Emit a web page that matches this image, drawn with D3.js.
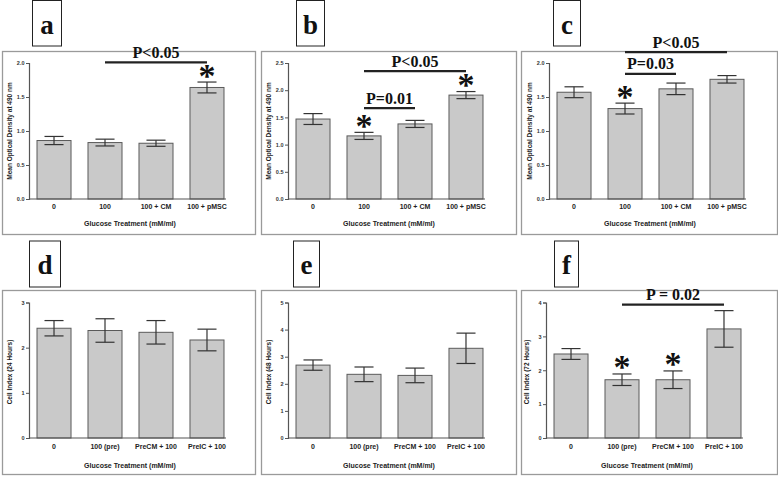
<!DOCTYPE html>
<html><head><meta charset="utf-8">
<script src="https://cdn.jsdelivr.net/npm/d3@7/dist/d3.min.js"></script>
<style>body{margin:0;background:#fff}svg{display:block}</style>
</head><body>
<svg id="chart" width="778" height="477"></svg>
<script>
// ---------- DATA ----------
const catsTop    = ["0", "100", "100 + CM", "100 + pMSC"];
const catsBottom = ["0", "100 (pre)", "PreCM + 100", "PreIC + 100"];

const aMeans = [0.86, 0.83, 0.82, 1.64];
const aErr   = [0.06, 0.05, 0.045, 0.08];
const bMeans = [1.47, 1.16, 1.38, 1.91];
const bErr   = [0.10, 0.065, 0.065, 0.065];
const cMeans = [1.57, 1.33, 1.62, 1.76];
const cErr   = [0.08, 0.08, 0.085, 0.055];
const dMeans = [2.43, 2.38, 2.34, 2.17];
const dErr   = [0.17, 0.26, 0.26, 0.24];
const eMeans = [2.69, 2.35, 2.31, 3.31];
const eErr   = [0.19, 0.27, 0.27, 0.56];
const fMeans = [2.48, 1.72, 1.72, 3.22];
const fErr   = [0.16, 0.17, 0.26, 0.54];

const ticksOD25 = [0, 0.5, 1.0, 1.5, 2.0, 2.5];
const ticksOD20 = [0, 0.5, 1.0, 1.5, 2.0];
const ticksCI3  = [0, 1, 2, 3];
const ticksCI4  = [0, 1, 2, 3, 4];
const ticksCI5  = [0, 1, 2, 3, 4, 5];

const yTitleOD = "Mean Optical Density at 490 nm";
const yTitleD  = "Cell Index (24 Hours)";
const yTitleE  = "Cell Index (48 Hours)";
const yTitleF  = "Cell Index (72 Hours)";
const xTitle   = "Glucose Treatment (mM/ml)";

const sigA = [{from: 1, to: 3, level: 2.01, label: "P<0.05"}];
const sigB = [{from: 1, to: 3, level: 2.35, label: "P<0.05"},
              {from: 1, to: 2, level: 1.67, label: "P=0.01"}];
const sigC = [{from: 1, to: 3, level: 2.16, label: "P<0.05"},
              {from: 1, to: 2, level: 1.84, label: "P=0.03"}];
const sigF = [{from: 1, to: 3, level: 3.94, label: "P = 0.02"}];

const starsA = [3], starsB = [1, 3], starsC = [1], starsD = [], starsE = [], starsF = [1, 2];

// ---------- LAYOUT ----------
const rowTop = {yTop: 63, yBot: 199, tickY: 208.5, xTitleY: 225.5, yTitleCY: 131, frameY: [51, 234], boxY: [0.5, 46], letterY: 34};
const rowBot = {yTop: 302.5, yBot: 438, tickY: 448.5, xTitleY: 467.5, yTitleCY: 372, frameY: [290, 474], boxY: [241, 287], letterY: 274};

const panels = [
  {letter: "a", cats: catsTop, means: aMeans, errs: aErr, ticks: ticksOD20, fmt: ".1f", yTitle: yTitleOD, sig: sigA, stars: starsA, row: rowTop, frameX: [2, 255], boxX: [32, 61], axisX: 29},
  {letter: "b", cats: catsTop, means: bMeans, errs: bErr, ticks: ticksOD25, fmt: ".1f", yTitle: yTitleOD, sig: sigB, stars: starsB, row: rowTop, frameX: [261, 516], boxX: [296, 324], axisX: 288},
  {letter: "c", cats: catsTop, means: cMeans, errs: cErr, ticks: ticksOD20, fmt: ".1f", yTitle: yTitleOD, sig: sigC, stars: starsC, row: rowTop, frameX: [521, 777], boxX: [553, 580], axisX: 549},
  {letter: "d", cats: catsBottom, means: dMeans, errs: dErr, ticks: ticksCI3, fmt: "d", yTitle: yTitleD, sig: [], stars: starsD, row: rowBot, frameX: [2, 255], boxX: [29, 60], axisX: 29},
  {letter: "e", cats: catsBottom, means: eMeans, errs: eErr, ticks: ticksCI5, fmt: "d", yTitle: yTitleE, sig: [], stars: starsE, row: rowBot, frameX: [261, 516], boxX: [293, 319], axisX: 288},
  {letter: "f", cats: catsBottom, means: fMeans, errs: fErr, ticks: ticksCI4, fmt: "d", yTitle: yTitleF, sig: sigF, stars: starsF, row: rowBot, frameX: [521, 777], boxX: [554, 578], axisX: 546}
];

const svg = d3.select("#chart");
const SANS = "'Liberation Sans', Arial, sans-serif";
const SERIF = "'Liberation Serif', 'Times New Roman', serif";

panels.forEach(p => {
  const r = p.row;
  const g = svg.append("g");

  // panel frame
  g.append("rect")
    .attr("x", p.frameX[0] + 0.5).attr("y", r.frameY[0] + 0.5)
    .attr("width", p.frameX[1] - p.frameX[0]).attr("height", r.frameY[1] - r.frameY[0])
    .attr("fill", "#fff").attr("stroke", "#9a9a9a").attr("stroke-width", 1.3);

  // letter box
  g.append("rect")
    .attr("x", p.boxX[0] + 0.5).attr("y", r.boxY[0])
    .attr("width", p.boxX[1] - p.boxX[0]).attr("height", r.boxY[1] - r.boxY[0])
    .attr("fill", "#fff").attr("stroke", "#222").attr("stroke-width", 1);
  g.append("text")
    .attr("x", (p.boxX[0] + p.boxX[1]) / 2 + 0.5).attr("y", r.letterY)
    .attr("text-anchor", "middle")
    .attr("font-family", SERIF).attr("font-weight", "bold").attr("font-size", 27)
    .attr("fill", "#111").text(p.letter);

  const yMax = p.ticks[p.ticks.length - 1];
  const y = d3.scaleLinear().domain([0, yMax]).range([r.yBot, r.yTop]);
  const x = d3.scaleBand().domain(p.cats).range([p.axisX, p.axisX + 203])
    .paddingInner(0.333).paddingOuter(0.157);

  // bars
  g.selectAll(".bar").data(p.means).enter().append("rect")
    .attr("x", (d, i) => x(p.cats[i]))
    .attr("y", d => y(d))
    .attr("width", x.bandwidth())
    .attr("height", d => y(0) - y(d))
    .attr("fill", "#c9c9c9").attr("stroke", "#5a5a5a").attr("stroke-width", 1);

  // error bars
  const capW = x.bandwidth() * 0.56;
  p.means.forEach((m, i) => {
    const cx = x(p.cats[i]) + x.bandwidth() / 2;
    const e = p.errs[i];
    const eg = g.append("g").attr("stroke", "#333").attr("stroke-width", 1.2);
    eg.append("line").attr("x1", cx).attr("x2", cx).attr("y1", y(m - e)).attr("y2", y(m + e));
    eg.append("line").attr("x1", cx - capW / 2).attr("x2", cx + capW / 2).attr("y1", y(m + e)).attr("y2", y(m + e));
    eg.append("line").attr("x1", cx - capW / 2).attr("x2", cx + capW / 2).attr("y1", y(m - e)).attr("y2", y(m - e));
  });

  // y axis
  const yAxis = d3.axisLeft(y).tickValues(p.ticks).tickFormat(d3.format(p.fmt)).tickSize(3).tickPadding(1.5);
  const ya = g.append("g").attr("transform", `translate(${p.axisX},0)`).call(yAxis);
  ya.select(".domain").attr("stroke", "#555").attr("stroke-width", 1.2);
  ya.selectAll(".tick line").attr("stroke", "#555");
  ya.selectAll(".tick text").attr("font-family", SANS).attr("font-weight", "bold")
    .attr("font-size", 5.5).attr("fill", "#333");

  // x axis
  const lastRight = x(p.cats[p.cats.length - 1]) + x.bandwidth();
  g.append("line").attr("x1", p.axisX).attr("x2", lastRight + 2)
    .attr("y1", r.yBot).attr("y2", r.yBot).attr("stroke", "#555").attr("stroke-width", 1.2);
  g.selectAll(".xlab").data(p.cats).enter().append("text")
    .attr("x", d => x(d) + x.bandwidth() / 2).attr("y", r.tickY)
    .attr("text-anchor", "middle")
    .attr("font-family", SANS).attr("font-weight", "bold").attr("font-size", 7)
    .attr("fill", "#222").text(d => d);

  // axis titles
  g.append("text")
    .attr("x", p.axisX + 101).attr("y", r.xTitleY)
    .attr("text-anchor", "middle")
    .attr("font-family", SANS).attr("font-weight", "bold").attr("font-size", 7)
    .attr("fill", "#222").text(xTitle);
  g.append("text")
    .attr("transform", `translate(${p.axisX - 17},${r.yTitleCY}) rotate(-90)`)
    .attr("text-anchor", "middle")
    .attr("font-family", SANS).attr("font-weight", "bold").attr("font-size", 6.5)
    .attr("fill", "#222").text(p.yTitle);

  // significance lines
  p.sig.forEach(s => {
    const x1 = x(p.cats[s.from]) + x.bandwidth() / 2;
    const x2 = x(p.cats[s.to]) + x.bandwidth() / 2;
    const ly = y(s.level);
    g.append("line").attr("x1", x1).attr("x2", x2).attr("y1", ly).attr("y2", ly)
      .attr("stroke", "#222").attr("stroke-width", 2.2);
    g.append("text").attr("x", (x1 + x2) / 2).attr("y", ly - 4.5)
      .attr("text-anchor", "middle")
      .attr("font-family", SERIF).attr("font-weight", "bold").attr("font-size", 16)
      .attr("fill", "#111").text(s.label);
  });

  // stars
  p.stars.forEach(i => {
    const cx = x(p.cats[i]) + x.bandwidth() / 2;
    const top = y(p.means[i] + p.errs[i]);
    g.append("text").attr("x", cx).attr("y", top + 4.5)
      .attr("text-anchor", "middle")
      .attr("font-family", SERIF).attr("font-weight", "bold").attr("font-size", 34)
      .attr("fill", "#111").text("*");
  });
});
</script>
</body></html>
